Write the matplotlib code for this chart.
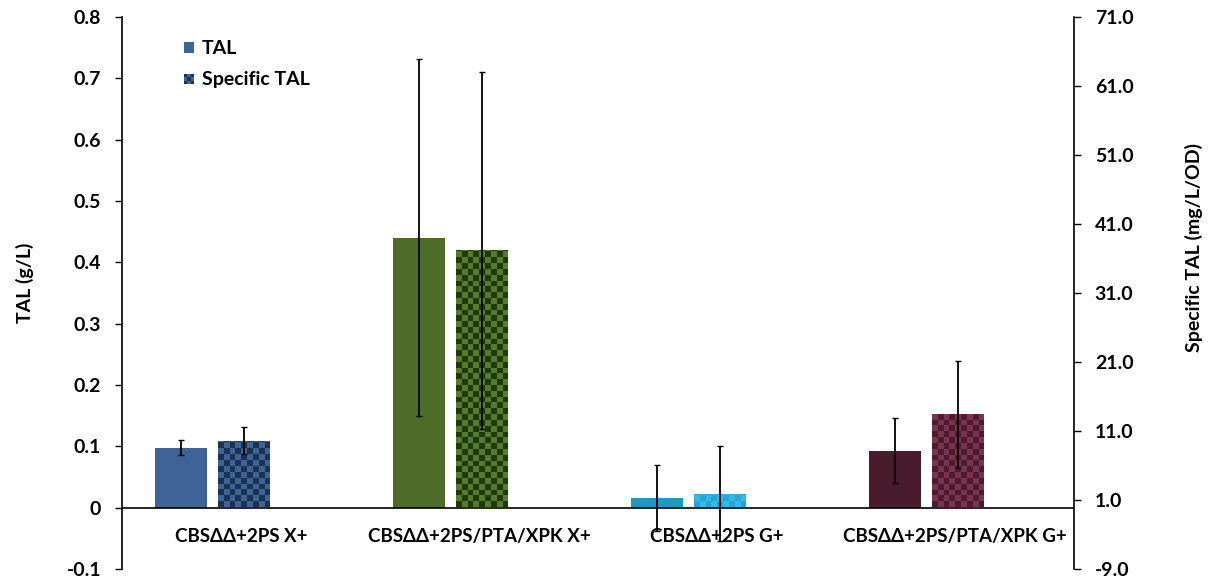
import numpy as np
import matplotlib
matplotlib.use("Agg")
import matplotlib.pyplot as plt
from matplotlib.patches import Rectangle
from matplotlib.legend_handler import HandlerBase
from matplotlib.colors import to_rgb

categories = ["CBSΔΔ+2PS X+", "CBSΔΔ+2PS/PTA/XPK X+", "CBSΔΔ+2PS G+", "CBSΔΔ+2PS/PTA/XPK G+"]
tal = [0.098, 0.440, 0.016, 0.093]
tal_err = [0.012, 0.291, 0.054, 0.053]
specific_tal = [9.6, 37.2, 1.9, 13.4]
specific_err = [2.0, 25.9, 6.9, 7.8]

left_ticks = [-0.1, 0.0, 0.1, 0.2, 0.3, 0.4, 0.5, 0.6, 0.7, 0.8]
left_ticklabels = ["-0.1", "0", "0.1", "0.2", "0.3", "0.4", "0.5", "0.6", "0.7", "0.8"]
right_ticks = [-9, 1, 11, 21, 31, 41, 51, 61, 71]
right_ticklabels = ["-9.0", "1.0", "11.0", "21.0", "31.0", "41.0", "51.0", "61.0", "71.0"]

solid_colors = ["#3e6396", "#4f6b28", "#2398bc", "#4a1b2d"]
checker_light = ["#3e6396", "#547c2c", "#33bbe8", "#7a3350"]
checker_dark = ["#1d3150", "#1d3a08", "#2aa3d2", "#4c1c2e"]

FONT = "Lato"
FS = 14
plt.rcParams["font.family"] = [FONT, "DejaVu Sans"]
plt.rcParams["font.weight"] = "bold"

fig = plt.figure(figsize=(12.11, 5.82), dpi=100)
ax = fig.add_axes([122 / 1211, 1 - 569 / 582, (1074 - 122) / 1211, (569 - 17) / 582])
ax2 = ax.twinx()

x = np.arange(len(categories))
off_tal, off_spec, width = 0.248, 0.512, 0.218

ax.set_xlim(0, 4)
ax.set_ylim(-0.1, 0.8)
ax2.set_ylim(-9, 71)

err_kw = dict(ecolor="black", elinewidth=1.3, capsize=2.5, capthick=1.0)
ax.bar(x + off_tal, tal, width, color=solid_colors, yerr=tal_err, error_kw=err_kw, zorder=2)
spec_bars = ax2.bar(x + off_spec, specific_tal, width, color=checker_light, zorder=2)

# checkerboard fill clipped to each specific-TAL bar
cell_px = 5.8
fig.canvas.draw()
px_per_x = ax2.transData.transform((1, 0))[0] - ax2.transData.transform((0, 0))[0]
px_per_y = ax2.transData.transform((0, 1))[1] - ax2.transData.transform((0, 0))[1]
dx, dy = cell_px / px_per_x, cell_px / px_per_y
for i, bar in enumerate(spec_bars):
    bx, bw, bh = bar.get_x(), bar.get_width(), bar.get_height()
    nc = int(np.ceil(bw / dx))
    nr = int(np.ceil(bh / dy)) + 1
    ii, jj = np.indices((nr, nc))
    mask = (ii + jj) % 2 == 0
    img = np.empty((nr, nc, 3))
    img[mask] = to_rgb(checker_dark[i])
    img[~mask] = to_rgb(checker_light[i])
    im = ax2.imshow(img, extent=(bx, bx + nc * dx, 0, nr * dy), origin="lower",
                    interpolation="nearest", aspect="auto", zorder=2.1)
    im.set_clip_path(bar)
# error bars above the checker fill
ax2.errorbar(x + off_spec, specific_tal, yerr=specific_err, fmt="none", zorder=3, **err_kw)
ax2.set_xlim(0, 4)
ax2.set_ylim(-9, 71)

ax.axhline(0, color="black", lw=1.2, zorder=4)

for s in ["top", "bottom", "right"]:
    ax.spines[s].set_visible(False)
for s in ["top", "bottom", "left"]:
    ax2.spines[s].set_visible(False)
ax.spines["left"].set_linewidth(1.2)
ax2.spines["right"].set_linewidth(1.2)

ax.set_xticks([])
ax.set_yticks(left_ticks)
ax.set_yticklabels(left_ticklabels, fontsize=FS, fontweight="bold")
ax2.set_yticks(right_ticks)
ax2.set_yticklabels(right_ticklabels, fontsize=FS, fontweight="bold")
ax.tick_params(axis="y", direction="out", length=5, width=1.0, pad=10)
ax2.tick_params(axis="y", direction="out", length=5, width=1.0, pad=10)

for i, c in enumerate(categories):
    ax.text(x[i] + 0.5, -0.047, c, ha="center", va="center", fontsize=13.5, fontweight="bold")

fig.text(25 / 1211, 1 - 283 / 582, "TAL (g/L)", rotation=90, ha="center", va="center",
         fontsize=FS, fontweight="bold")
fig.text(1194 / 1211, 1 - 248 / 582, "Specific TAL (mg/L/OD)", rotation=90, ha="center",
         va="center", fontsize=FS, fontweight="bold")


class CheckerHandler(HandlerBase):
    def __init__(self, light, dark, n=3):
        super().__init__()
        self.light, self.dark, self.n = light, dark, n

    def create_artists(self, legend, orig_handle, xdescent, ydescent, width, height, fontsize, trans):
        arts = []
        s = min(width, height)
        c = s / self.n
        for r in range(self.n):
            for q in range(self.n):
                col = self.dark if (r + q) % 2 == 0 else self.light
                arts.append(Rectangle((-xdescent + q * c, -ydescent + r * c), c, c,
                                      facecolor=col, edgecolor="none", transform=trans))
        return arts


h_tal = Rectangle((0, 0), 1, 1, facecolor=solid_colors[0], edgecolor="none")
h_spec = Rectangle((0, 0), 1, 1)
ax.legend([h_tal, h_spec], ["TAL", "Specific TAL"],
          handler_map={h_spec: CheckerHandler(checker_light[0], checker_dark[0])},
          loc="upper left", bbox_to_anchor=(166 / 1211, 1 - 23 / 582),
          bbox_transform=fig.transFigure, frameon=False, handlelength=0.55,
          handleheight=0.55, handletextpad=0.4, labelspacing=0.72,
          prop={"family": FONT, "weight": "bold", "size": FS})

fig.savefig("out.png", dpi=100)
